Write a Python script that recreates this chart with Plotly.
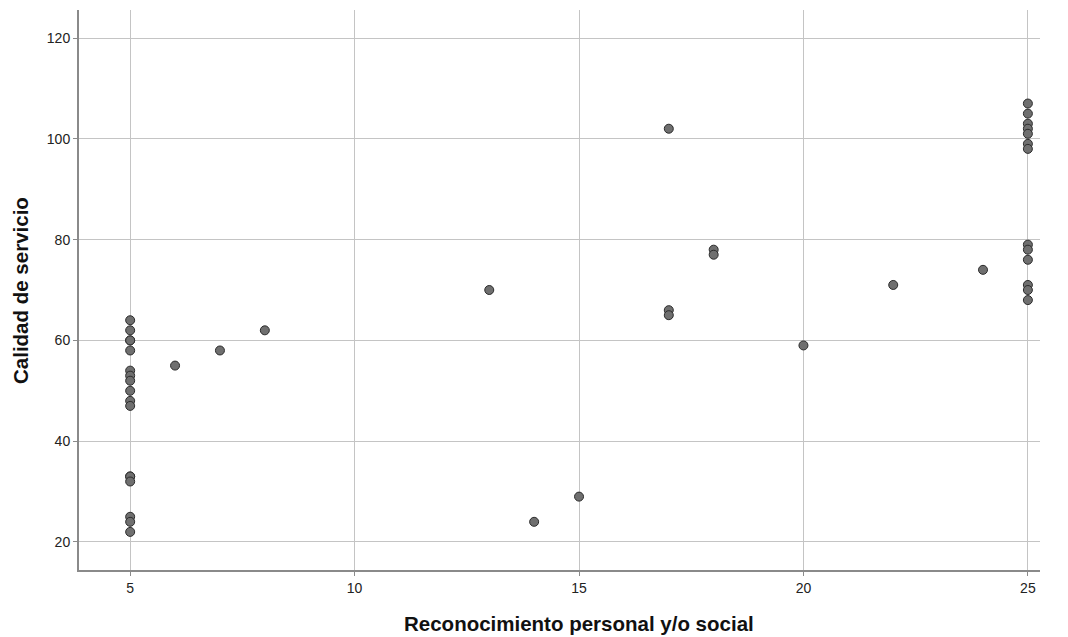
import plotly.graph_objects as go

# Reconocimiento personal y/o social vs. Calidad de servicio
reconocimiento = [
    5, 5, 5, 5, 5, 5, 5, 5, 5, 5, 5, 5, 5, 5, 5, 5, 5,
    6, 7, 8, 13, 14, 15, 17, 17, 17, 18, 18, 20, 22, 24,
    25, 25, 25, 25, 25, 25, 25, 25, 25, 25, 25, 25, 25,
]
calidad = [
    64, 62, 60, 60, 58, 54, 53, 52, 50, 48, 47, 33, 33, 32, 25, 24, 22,
    55, 58, 62, 70, 24, 29, 102, 66, 65, 78, 77, 59, 71, 74,
    107, 105, 103, 102, 101, 99, 98, 79, 78, 76, 71, 70, 68,
]

x_ticks = [5, 10, 15, 20, 25]
y_ticks = [20, 40, 60, 80, 100, 120]

FONT = "Liberation Sans, Arial, sans-serif"

fig = go.Figure(
    go.Scatter(
        x=reconocimiento,
        y=calidad,
        mode="markers",
        marker=dict(size=9, color="#6f6f6f", line=dict(color="#2b2b2b", width=1)),
        hoverinfo="x+y",
    )
)

axis_common = dict(
    showgrid=True,
    gridcolor="#c4c4c4",
    gridwidth=1,
    showline=True,
    linecolor="#8a8a8a",
    linewidth=2,
    ticks="outside",
    ticklen=4,
    tickcolor="#8a8a8a",
    zeroline=False,
    tickfont=dict(family=FONT, size=14, color="#222"),
)

title_font = dict(family=FONT, size=20.5, color="#111")

fig.update_layout(
    width=1068,
    height=637,
    margin=dict(l=79, r=28, t=10, b=67),
    plot_bgcolor="white",
    paper_bgcolor="white",
    showlegend=False,
    xaxis=dict(range=[3.86, 25.27], tickvals=x_ticks, **axis_common),
    yaxis=dict(range=[14.44, 125.56], tickvals=y_ticks, **axis_common),
    annotations=[
        dict(
            text="<b>Reconocimiento personal y/o social</b>",
            xref="paper", yref="paper",
            x=0.5203, y=-0.0964,
            xanchor="center", yanchor="middle",
            showarrow=False, font=title_font,
        ),
        dict(
            text="<b>Calidad de servicio</b>",
            xref="paper", yref="paper",
            x=-0.0614, y=0.5,
            xanchor="center", yanchor="middle",
            textangle=-90,
            showarrow=False, font=title_font,
        ),
    ],
)

fig.write_html("out.html")
